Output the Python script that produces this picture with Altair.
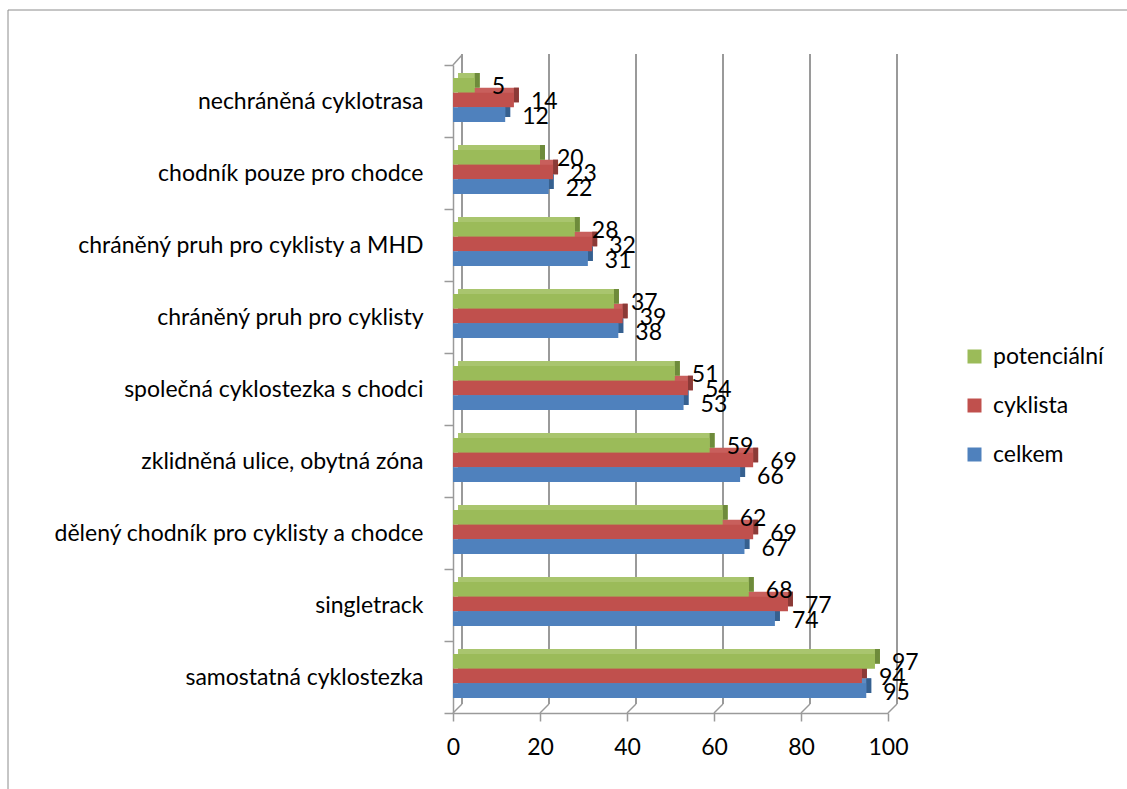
import altair as alt
import pandas as pd

# Survey results: share of respondents (%) who find each kind of cycling infrastructure suitable
categories = [
    "nechráněná cyklotrasa",
    "chodník pouze pro chodce",
    "chráněný pruh pro cyklisty a MHD",
    "chráněný pruh pro cyklisty",
    "společná cyklostezka s chodci",
    "zklidněná ulice, obytná zóna",
    "dělený chodník pro cyklisty a chodce",
    "singletrack",
    "samostatná cyklostezka",
]
series = ["potenciální", "cyklista", "celkem"]
potencialni = [5, 20, 28, 37, 51, 59, 62, 68, 97]
cyklista = [14, 23, 32, 39, 54, 69, 69, 77, 94]
celkem = [12, 22, 31, 38, 53, 66, 67, 74, 95]
x_ticks = [0, 20, 40, 60, 80, 100]

# Styling
FONT = "Lato"
FS = 23
FRONT = ["#9BBB59", "#C0504D", "#4F81BD"]
TOP = ["#A9C56E", "#C85F5C", "#5E8CC4"]
SIDE = ["#6E8B3B", "#8B3A37", "#36608F"]
GRID = "#9A9A9A"
DEPTH = 5          # pixel depth of the 3D extrusion
GRID_SHIFT = 9     # back wall offset
W, H = 435, 648
LEFT, TOP_PAD = 453, 65

rows = []
for i, cat in enumerate(categories):
    for name, vals in zip(series, [potencialni, cyklista, celkem]):
        rows.append({"kategorie": cat, "skupina": name, "hodnota": vals[i]})
df = pd.DataFrame(rows)
ticks_df = pd.DataFrame({"v": x_ticks})
one = pd.DataFrame({"a": [0]})

x_scale = alt.Scale(domain=[0, 100], nice=False, zero=True)
y_scale = alt.Scale(domain=categories, paddingInner=0, paddingOuter=0)

y_axis = alt.Axis(
    title=None, labelFont=FONT, labelFontSize=FS, labelColor="#000000",
    labelPadding=21, tickSize=9, tickColor=GRID, tickWidth=1.5,
    tickBand="extent", domainColor=GRID, domainWidth=1.5, labelLimit=450,
)
x_axis = alt.Axis(
    title=None, values=x_ticks, labelFont=FONT, labelFontSize=FS,
    labelColor="#000000", labelPadding=15, tickSize=8, tickColor=GRID,
    tickWidth=1.5, domainColor=GRID, domainWidth=1.5, grid=False,
    labelFlush=False, labelOverlap=False,
)


def y_enc():
    return alt.Y("kategorie:N", scale=y_scale, sort=categories, axis=y_axis)


def y_off(lo, hi):
    return alt.YOffset("skupina:N", sort=series,
                       scale=alt.Scale(domain=series, range=[lo, hi]))


def x_enc():
    return alt.X("hodnota:Q", scale=x_scale, axis=x_axis)


# back wall gridlines and their diagonals down to the front floor edge
grid = alt.Chart(ticks_df).mark_rule(color=GRID, strokeWidth=2, xOffset=GRID_SHIFT).encode(
    x=alt.X("v:Q", scale=x_scale, axis=x_axis),
    y=alt.value(-11), y2=alt.value(H - GRID_SHIFT),
)
grid_diag = alt.Chart(ticks_df).mark_rule(
    color=GRID, strokeWidth=1.5, xOffset=GRID_SHIFT, x2Offset=0
).encode(
    x=alt.X("v:Q", scale=x_scale, axis=x_axis), x2="v:Q",
    y=alt.value(H - GRID_SHIFT), y2=alt.value(H),
)
wall_diag = alt.Chart(one).mark_rule(color=GRID, strokeWidth=1.5).encode(
    x=alt.value(0), x2=alt.value(GRID_SHIFT), y=alt.value(0), y2=alt.value(-10),
)

# 3D faces: top face (shifted copy) and right side face, drawn beneath the front faces
top_face = alt.Chart(df).mark_bar(xOffset=DEPTH, x2Offset=DEPTH).encode(
    x=x_enc(), y=y_enc(), yOffset=y_off(13 - DEPTH, 57 - DEPTH),
    color=alt.Color("skupina:N", scale=alt.Scale(domain=series, range=TOP), legend=None),
)
side_face = alt.Chart(df).mark_bar(x2Offset=DEPTH).encode(
    x=x_enc(), x2="hodnota:Q", y=y_enc(), yOffset=y_off(13 - DEPTH, 57 - DEPTH),
    color=alt.Color("skupina:N", scale=alt.Scale(domain=series, range=SIDE), legend=None),
)
front = alt.Chart(df).mark_bar().encode(
    x=x_enc(), y=y_enc(), yOffset=y_off(13, 57),
    color=alt.Color(
        "skupina:N", sort=series,
        scale=alt.Scale(domain=series, range=FRONT),
        legend=alt.Legend(
            title=None, orient="none", legendX=510, legendY=280,
            symbolType="square", symbolSize=196, symbolStrokeWidth=0,
            labelFont=FONT, labelFontSize=FS, labelColor="#000000",
            labelOffset=7, rowPadding=25,
        ),
    ),
)
labels = alt.Chart(df).mark_text(
    align="left", baseline="middle", dx=17, dy=2, font=FONT, fontSize=FS, color="#000000"
).encode(
    x=x_enc(), y=y_enc(), yOffset=y_off(13, 57), text="hodnota:Q",
)

# outer chart frame (left and top edges)
frame_left = alt.Chart(one).mark_rule(color="#8C8C8C", strokeWidth=1).encode(
    x=alt.value(8 - LEFT), y=alt.value(10 - TOP_PAD), y2=alt.value(789 - TOP_PAD),
)
frame_top = alt.Chart(one).mark_rule(color="#8C8C8C", strokeWidth=1).encode(
    x=alt.value(8 - LEFT), x2=alt.value(1127 - LEFT), y=alt.value(10 - TOP_PAD),
)

chart = alt.layer(
    frame_left, frame_top, grid, grid_diag, wall_diag,
    top_face, side_face, front, labels,
).resolve_scale(
    yOffset="independent", color="independent"
).properties(
    width=W, height=H,
    autosize=alt.AutoSizeParams(type="none"),
    padding={"left": LEFT, "top": TOP_PAD, "right": 1127 - LEFT - W, "bottom": 789 - TOP_PAD - H},
    background="white",
).configure_view(stroke=None)

chart.save("out.html", embed_options={"renderer": "svg", "actions": False})
